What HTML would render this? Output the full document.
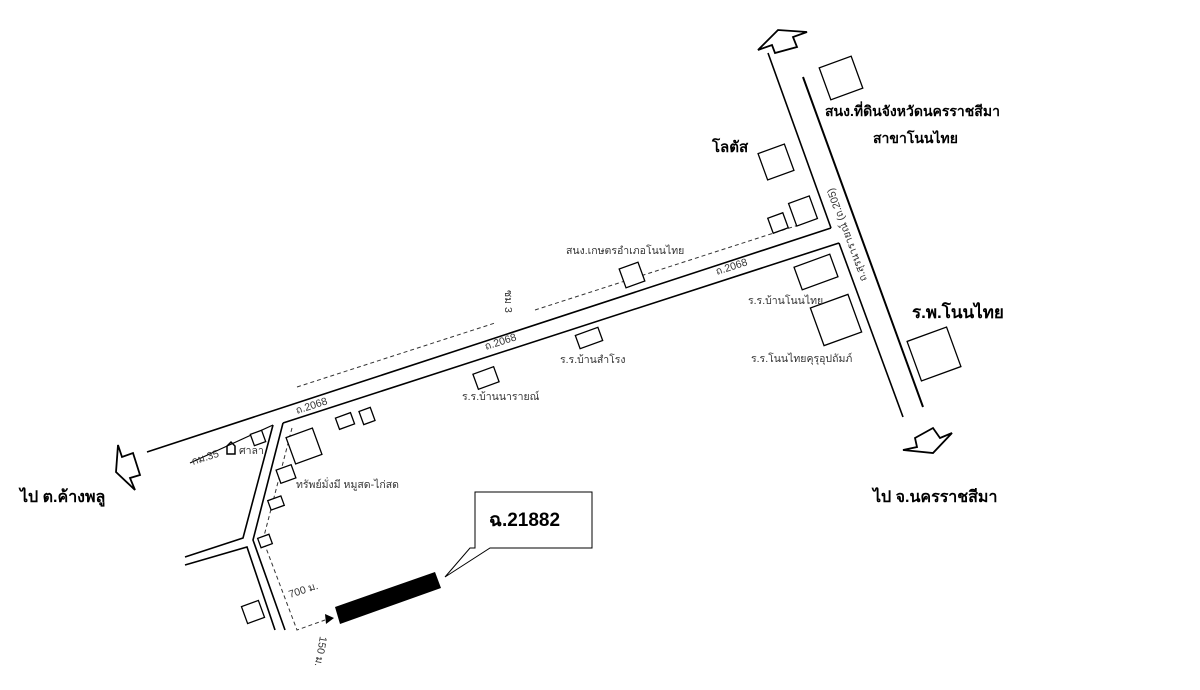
<!DOCTYPE html>
<html><head><meta charset="utf-8"><style>
html,body{margin:0;padding:0;background:#fff;}
svg{display:block;}
text{font-family:"Liberation Sans","Noto Sans CJK SC",sans-serif;fill:#222;}
.s{font-size:10.5px;fill:#333;}
.b{font-size:16px;font-weight:bold;fill:#000;}
</style></head><body>
<svg width="1200" height="690" viewBox="0 0 1200 690" xmlns="http://www.w3.org/2000/svg">
<g stroke="#000" fill="none" stroke-width="1.6">
<line x1="147" y1="452" x2="831" y2="228"/>
<line x1="283" y1="423" x2="839" y2="243"/>
<line x1="190" y1="463" x2="273" y2="425" stroke-width="1.2"/>
<line x1="768" y1="53" x2="831" y2="228"/>
<line x1="839" y1="243" x2="903" y2="417"/>
<line x1="803" y1="77" x2="923" y2="407" stroke-width="2"/>
<polyline points="273,425 243,538 185,557"/>
<polyline points="185,565 247,547 275,630"/>
<polyline points="283,423 253,540 285,630"/>
</g>
<g stroke="#333" fill="none" stroke-width="1" stroke-dasharray="4,3">
<line x1="297" y1="387" x2="495" y2="323"/>
<line x1="535" y1="310" x2="808" y2="222"/>
<polyline points="292,428 263,540 297,630 325,620"/>
</g>
<polygon points="325,614 334,618 326,624" fill="#000"/>
<polygon points="335,607 435,572 441,588 340,624" fill="#000"/>
<polygon points="475,492 592,492 592,548 490,548 445,577 470,548 475,548" fill="#fff" stroke="#000" stroke-width="1"/>
<text x="489" y="526" style="font-size:19px;font-weight:bold;fill:#000">ฉ.21882</text>
<g stroke="#000" fill="#fff" stroke-width="1.8">
<polygon points="118,445 122,457 133,453 140,475 130,478 135,490 116,472"/>
<polygon points="758,50 778,30 807,32 793,37 797,47 775,53 772,45"/>
<polygon points="915,438 933,428 940,438 952,433 933,453 903,450 917,447"/>
</g>
<g stroke="#000" fill="#fff" stroke-width="1.3">
<rect x="-17" y="-17" width="34" height="34" transform="translate(841,78) rotate(-20)"/>
<rect x="-14" y="-14" width="28" height="28" transform="translate(776,162) rotate(-20)"/>
<rect x="-8" y="-8" width="16" height="16" transform="translate(778,223) rotate(-20)"/>
<rect x="-11" y="-12" width="22" height="24" transform="translate(803,211) rotate(-20)"/>
<rect x="-19" y="-12" width="38" height="24" transform="translate(816,272) rotate(-20)"/>
<rect x="-20" y="-20" width="40" height="40" transform="translate(836,320) rotate(-20)"/>
<rect x="-21" y="-21" width="42" height="42" transform="translate(934,354) rotate(-20)"/>
<rect x="-10" y="-10" width="20" height="20" transform="translate(632,275) rotate(-20)"/>
<rect x="-12" y="-7" width="24" height="14" transform="translate(589,338) rotate(-20)"/>
<rect x="-11" y="-8" width="22" height="16" transform="translate(486,378) rotate(-20)"/>
<rect x="-8" y="-6" width="16" height="12" transform="translate(345,421) rotate(-20)"/>
<rect x="-6" y="-7" width="12" height="14" transform="translate(367,416) rotate(-20)"/>
<rect x="-14" y="-14" width="28" height="28" transform="translate(304,446) rotate(-20)"/>
<rect x="-8" y="-7" width="16" height="14" transform="translate(286,474) rotate(-20)"/>
<rect x="-6" y="-6" width="12" height="12" transform="translate(258,438) rotate(-20)"/>
<rect x="-7" y="-5" width="14" height="10" transform="translate(276,503) rotate(-20)"/>
<rect x="-6" y="-5" width="12" height="10" transform="translate(265,541) rotate(-20)"/>
<rect x="-9" y="-9" width="18" height="18" transform="translate(253,612) rotate(-20)"/>
</g>
<path d="M227,454 L227,446 L231,442 L235,446 L235,454 Z" fill="none" stroke="#000" stroke-width="1.5"/>
<text class="b" x="20" y="502">ไป ต.ค้างพลู</text>
<text class="b" x="873" y="502">ไป จ.นครราชสีมา</text>
<text class="b" x="912" y="318" style="font-size:17px">ร.พ.โนนไทย</text>
<text class="b" x="712" y="152" style="font-size:15px">โลตัส</text>
<text x="825" y="116" style="font-size:14px;font-weight:bold;fill:#000">สนง.ที่ดินจังหวัดนครราชสีมา</text>
<text x="873" y="143" style="font-size:14px;font-weight:bold;fill:#000">สาขาโนนไทย</text>
<text class="s" x="748" y="304">ร.ร.บ้านโนนไทย</text>
<text class="s" x="751" y="362">ร.ร.โนนไทยคุรุอุปถัมภ์</text>
<text class="s" x="566" y="254">สนง.เกษตรอำเภอโนนไทย</text>
<text class="s" x="560" y="363">ร.ร.บ้านสำโรง</text>
<text class="s" x="462" y="400">ร.ร.บ้านนารายณ์</text>
<text class="s" x="296" y="488">ทรัพย์มั่งมี หมูสด-ไก่สด</text>
<text class="s" x="239" y="454">ศาลา</text>
<text class="s" x="193" y="465" transform="rotate(-18 193 465)">กม.35</text>
<text class="s" x="297" y="414" transform="rotate(-18 297 414)">ถ.2068</text>
<text class="s" x="486" y="350" transform="rotate(-18 486 350)">ถ.2068</text>
<text class="s" x="717" y="275" transform="rotate(-18 717 275)">ถ.2068</text>
<text class="s" x="505" y="290" transform="rotate(90 505 290)">ซม 3</text>
<text class="s" x="867" y="280" transform="rotate(-110 867 280)">ถ.สุรนารายณ์ (ถ.205)</text>
<text class="s" x="290" y="598" transform="rotate(-18 290 598)">700 ม.</text>
<text class="s" x="320" y="636" transform="rotate(100 320 636)">150 ม.</text>
</svg>
</body></html>
